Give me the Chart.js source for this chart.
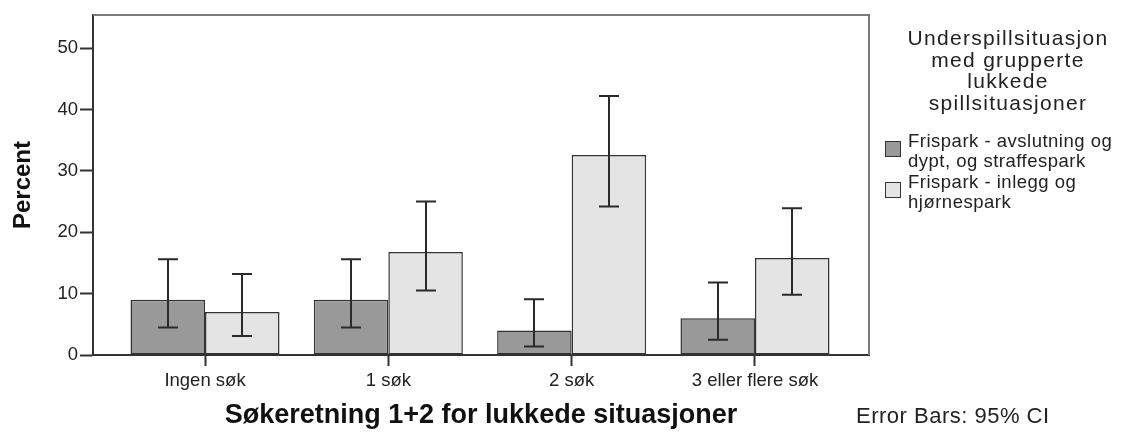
<!DOCTYPE html>
<html lang="no">
<head>
<meta charset="utf-8">
<title>Søkeretning 1+2 for lukkede situasjoner</title>
<script src="https://cdn.jsdelivr.net/npm/chart.js@4.4.1/dist/chart.umd.min.js"></script>
<style>
  html, body { margin: 0; padding: 0; background: #fff; }
  #wrap { position: relative; width: 1126px; height: 432px; font-family: "Liberation Sans", Arial, sans-serif; color: #222; }
  #chart { position: absolute; left: 0; top: 0; }
  .ttl { position: absolute; left: 880px; width: 256px; top: 27px; text-align: center; font-size: 21px; line-height: 21.5px; letter-spacing: 1.3px; white-space: nowrap; }
  .item { position: absolute; left: 908px; font-size: 18.5px; line-height: 20px; letter-spacing: 0.5px; white-space: nowrap; }
  .box { position: absolute; left: -23px; top: 10px; width: 14px; height: 14px; border: 1.5px solid #333; }
  #note { position: absolute; left: 856px; top: 403.5px; font-size: 22px; line-height: 24px; letter-spacing: 0.5px; white-space: nowrap; }
</style>
</head>
<body>
<div id="wrap">
  <canvas id="chart" width="1126" height="432"></canvas>
  <div id="legend"></div>
  <div id="note">Error Bars: 95% CI</div>
</div>
<script>
// Share of closed set-piece situations per number of runs (percent), with 95% CI
const categories = ['Ingen søk', '1 søk', '2 søk', '3 eller flere søk'];
const seriesLabels = [
  ['Frispark - avslutning og', 'dypt, og straffespark'],
  ['Frispark - inlegg og', 'hjørnespark']
];
const legendTitle = ['Underspillsituasjon', 'med grupperte', 'lukkede', 'spillsituasjoner'];

const shotValues  = [9.0, 9.0, 4.0, 6.0];
const shotLower   = [4.5, 4.5, 1.4, 2.5];
const shotUpper   = [15.6, 15.6, 9.1, 11.8];

const crossValues = [7.0, 16.8, 32.6, 15.8];
const crossLower  = [3.1, 10.5, 24.2, 9.8];
const crossUpper  = [13.2, 25.0, 42.2, 23.9];

const yTickValues = [0, 10, 20, 30, 40, 50];

const fills = ['#999999', '#e4e4e4'];
const edge = '#333333';
const FONT = '"Liberation Sans", Arial, sans-serif';

const toPoints = vals => vals.map((v, i) => ({ x: i, y: v }));

// Legend: centred title block, then one entry per series with wrapped label
const legendEl = document.getElementById('legend');
const ttl = document.createElement('div');
ttl.className = 'ttl';
ttl.innerHTML = legendTitle.join('<br>');
legendEl.appendChild(ttl);
const itemTops = [131, 172];
seriesLabels.forEach((lines, i) => {
  const it = document.createElement('div');
  it.className = 'item';
  it.style.top = itemTops[i] + 'px';
  it.innerHTML = lines.join('<br>');
  const b = document.createElement('span');
  b.className = 'box';
  b.style.background = fills[i];
  it.appendChild(b);
  legendEl.appendChild(it);
});

// Error bars + top/right frame of the plot box
const errorBars = {
  id: 'errorBars',
  afterDatasetsDraw(chart) {
    const { ctx, scales: { y } } = chart;
    const bounds = [[shotLower, shotUpper], [crossLower, crossUpper]];
    ctx.save();
    ctx.strokeStyle = '#2a2a2a';
    ctx.lineWidth = 2;
    chart.data.datasets.forEach((ds, di) => {
      const meta = chart.getDatasetMeta(di);
      meta.data.forEach((bar, i) => {
        const x = Math.round(bar.x);
        const yl = y.getPixelForValue(bounds[di][0][i]);
        const yh = y.getPixelForValue(bounds[di][1][i]);
        const cap = 10;
        ctx.beginPath();
        ctx.moveTo(x, yl); ctx.lineTo(x, yh);
        ctx.moveTo(x - cap, yl); ctx.lineTo(x + cap, yl);
        ctx.moveTo(x - cap, yh); ctx.lineTo(x + cap, yh);
        ctx.stroke();
      });
    });
    ctx.restore();
  },
  afterDraw(chart) {
    const { ctx, chartArea: a } = chart;
    ctx.save();
    ctx.strokeStyle = '#7a7a7a';
    ctx.lineWidth = 2;
    ctx.beginPath();
    ctx.moveTo(a.left, a.top);
    ctx.lineTo(a.right, a.top);
    ctx.lineTo(a.right, a.bottom);
    ctx.stroke();
    ctx.restore();
  }
};

const PLOT_LEFT = 93, PLOT_BOTTOM = 355;

new Chart(document.getElementById('chart'), {
  type: 'bar',
  data: {
    datasets: [
      { label: seriesLabels[0].join(' '), data: toPoints(shotValues), backgroundColor: fills[0] },
      { label: seriesLabels[1].join(' '), data: toPoints(crossValues), backgroundColor: fills[1] }
    ]
  },
  options: {
    responsive: false,
    animation: false,
    events: [],
    layout: { padding: { left: 0, top: 15, right: 257, bottom: 0 } },
    datasets: {
      bar: {
        borderColor: edge,
        borderWidth: 1.5,
        borderSkipped: false,
        categoryPercentage: 0.813,
        barPercentage: 1.0
      }
    },
    plugins: { legend: { display: false }, tooltip: { enabled: false } },
    scales: {
      x: {
        type: 'linear',
        offset: false,
        min: -0.611,
        max: 3.622,
        afterBuildTicks: s => { s.ticks = categories.map((_, i) => ({ value: i })); },
        afterFit: s => { s.height = 432 - PLOT_BOTTOM; },
        grid: { offset: false, drawOnChartArea: false, tickLength: 11, tickWidth: 2, color: edge },
        border: { display: true, color: edge, width: 2 },
        ticks: {
          padding: 4,
          color: '#222',
          font: { family: FONT, size: 18.5 },
          callback: v => categories[v]
        },
        title: {
          display: true,
          text: 'Søkeretning 1+2 for lukkede situasjoner',
          color: '#111',
          font: { family: FONT, size: 27, weight: 'bold' },
          padding: { top: 0, bottom: 0 }
        }
      },
      y: {
        min: 0,
        max: 55.4,
        afterBuildTicks: s => { s.ticks = yTickValues.map(v => ({ value: v })); },
        afterFit: s => { s.width = PLOT_LEFT; },
        grid: { drawOnChartArea: false, tickLength: 13, tickWidth: 2, color: edge },
        border: { display: true, color: edge, width: 2 },
        ticks: {
          padding: 2,
          color: '#222',
          font: { family: FONT, size: 18.5 }
        },
        title: {
          display: true,
          text: 'Percent',
          color: '#111',
          font: { family: FONT, size: 24, weight: 'bold' },
          padding: { top: 9, bottom: 0 }
        }
      }
    }
  },
  plugins: [errorBars]
});
</script>
</body>
</html>
